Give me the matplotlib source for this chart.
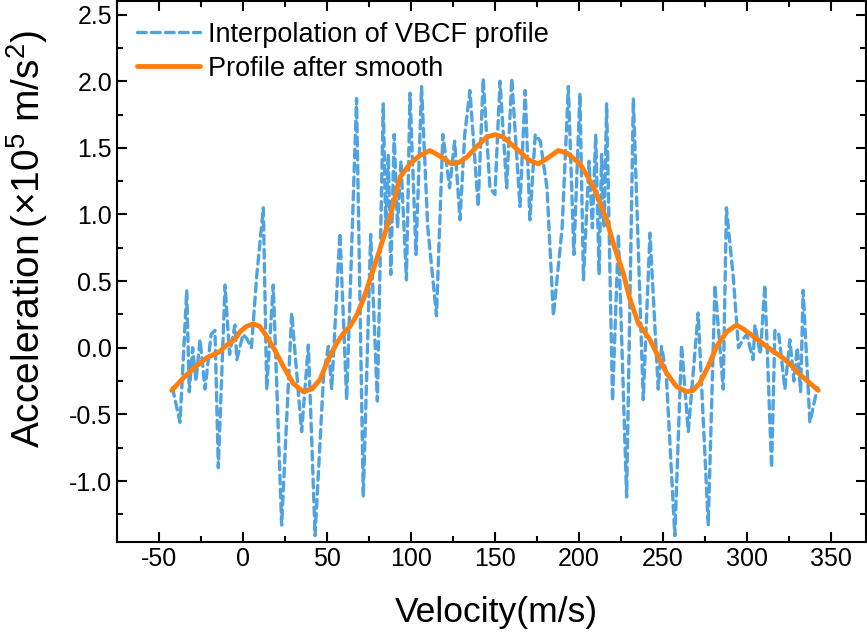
import numpy as np
import matplotlib.pyplot as plt
from matplotlib.ticker import MultipleLocator

plt.rcParams['font.family'] = ['Liberation Sans', 'DejaVu Sans']
plt.rcParams['mathtext.fontset'] = 'custom'
plt.rcParams['mathtext.rm'] = 'Liberation Sans'
plt.rcParams['axes.unicode_minus'] = False

# VBCF profile (interpolated)
vbcf_v = [-42, -37.5, -33.5, -32, -30, -28, -25.6, -22.6, -19, -16.7, -14.7, -10.7, -8, -4.8, -3.7,
          0, 2.2, 5, 8.1, 12.1, 14.1, 18, 23, 29, 34.9, 38.9, 42.9, 48, 50.8, 52.8, 57.7, 61.7,
          67.6, 71.6, 76, 80, 83.5, 85, 86.5, 88, 90, 92, 94, 97.3, 99.4, 103, 106.3, 110, 115.2, 119, 123,
          126, 129.2, 132, 135.1, 140, 143, 147, 150,
          153, 157, 160, 164.9, 168, 170.8, 174, 177, 181, 184.8, 190, 193.7, 197, 200.6, 202.7,
          206, 208, 210, 212, 213.5, 215, 216.5, 220, 223.5, 228.4, 232.4, 238.3, 242.3, 247.2, 249.2, 252, 257.1,
          261.1, 265.1, 271, 277, 281, 285.9, 287.8, 291.9, 295, 298, 300, 303.7, 304.8, 308,
          310.7, 314.7, 316.7, 319, 322.6, 325.6, 328, 330, 332, 333.5, 337.5, 342]
vbcf_a = [-0.30, -0.56, 0.43, -0.33, 0.00, -0.25, 0.06, -0.31, 0.10, 0.13, -0.90, 0.47, -0.05, 0.17, -0.09,
          0.10, 0.07, 0.00, 0.53, 1.05, -0.31, 0.47, -1.33, 0.26, -0.63, 0.02, -1.41, -0.20, 0.01, -0.31, 0.86, -0.39,
          1.87, -1.12, 0.85, -0.40, 1.83, 0.90, 1.45, 0.55, 1.60, 0.90, 1.40, 0.51, 1.91, 0.70, 1.96, 0.90, 0.24, 1.60, 1.20,
          1.55, 0.96, 1.60, 1.93, 1.06, 2.02, 1.20, 1.15,
          2.00, 1.20, 2.02, 1.06, 1.93, 0.96, 1.60, 1.55, 1.20, 0.24, 0.90, 1.96, 0.70, 1.91, 0.51,
          1.40, 0.90, 1.60, 0.55, 1.45, 0.90, 1.83, -0.40, 0.85, -1.12, 1.87, -0.39, 0.86, -0.31, 0.01, -0.20, -1.41,
          0.02, -0.63, 0.26, -1.33, 0.47, -0.31, 1.05, 0.53, 0.00, 0.07, 0.10, -0.09, 0.17, -0.05,
          0.47, -0.90, 0.13, 0.10, -0.31, 0.06, -0.25, 0.00, -0.33, 0.43, -0.56, -0.30]

# smoothed profile
smooth_v = [-42.4, -35, -28, -21.6, -14, -9.7, -5, -1.8, 2, 6.1, 10, 14.1, 19, 24, 30, 35.9, 41, 45.8,
            51, 55.8, 60, 63.7, 67.5, 71.6, 75.6, 81, 87.5, 93.5, 99.4, 105, 111.3, 117, 124.2, 128.5,
            133.2, 140, 145, 150, 155, 159.5, 164.9, 170, 175.8, 181, 187.7, 193, 200.6, 204.5, 208.5,
            212.5, 216.5, 221, 226.4, 230, 235.3, 242.3, 247, 252.2, 258, 264.1, 268, 272, 277, 282,
            288, 293.9, 298, 303.8, 311.7, 316, 321.6, 327, 331.5, 337, 342.5]
smooth_a = [-0.32, -0.22, -0.14, -0.075, -0.03, 0.02, 0.06, 0.12, 0.16, 0.18, 0.16, 0.085, -0.02, -0.14,
            -0.27, -0.33, -0.31, -0.24, -0.08, 0.035, 0.11, 0.16, 0.24, 0.36, 0.51, 0.72, 0.98, 1.28, 1.38,
            1.44, 1.48, 1.44, 1.38, 1.39, 1.43, 1.52, 1.58, 1.60, 1.58, 1.53, 1.47, 1.41, 1.38, 1.42, 1.48,
            1.46, 1.38, 1.30, 1.21, 1.09, 0.96, 0.76, 0.56, 0.38, 0.185, 0.06, -0.06, -0.19, -0.29, -0.33,
            -0.32, -0.265, -0.14, 0.01, 0.12, 0.17, 0.14, 0.085, 0.01, -0.03, -0.077, -0.14, -0.2, -0.26, -0.32]

fig = plt.figure(figsize=(8.67, 6.38), dpi=100)
ax = fig.add_axes([0.135, 0.150, 0.864, 0.848])

ax.plot(vbcf_v, vbcf_a, color='#4FA3E0', lw=2.4, dashes=(2.6, 1.6),
        dash_capstyle='round', label='Interpolation of VBCF profile')
ax.plot(smooth_v, smooth_a, color='#FF7F0E', lw=3.5, solid_capstyle='round',
        label='Profile after smooth')

ax.set_xlim(-75, 371)
ax.set_ylim(-1.46, 2.6)
ax.xaxis.set_major_locator(MultipleLocator(50))
ax.xaxis.set_minor_locator(MultipleLocator(25))
ax.yaxis.set_major_locator(MultipleLocator(0.5))
ax.yaxis.set_minor_locator(MultipleLocator(0.25))
ax.tick_params(which='both', direction='in', top=True, right=True, width=1.5, labelsize=18)
ax.tick_params(which='major', length=7)
ax.tick_params(which='minor', length=4)
ax.set_yticks(np.arange(-1.0, 2.51, 0.5))
ax.set_yticklabels(['%.1f' % t for t in np.arange(-1.0, 2.51, 0.5)])
for s in ax.spines.values():
    s.set_linewidth(1.5)

ax.set_xlabel('Velocity(m/s)', fontsize=25.5)
ax.set_ylabel(r'Acceleration$\,$(×10$^5$ m/s$^2$)', fontsize=28)
ax.xaxis.set_label_coords(0.506, -0.1)
ax.yaxis.set_label_coords(-0.089, 0.56)

ax.legend(loc='upper left', frameon=False, fontsize=19.5, handlelength=2.3,
          handletextpad=0.3, borderaxespad=0.45, labelspacing=0.3, borderpad=0.3)

fig.savefig('out.png', dpi=100)
